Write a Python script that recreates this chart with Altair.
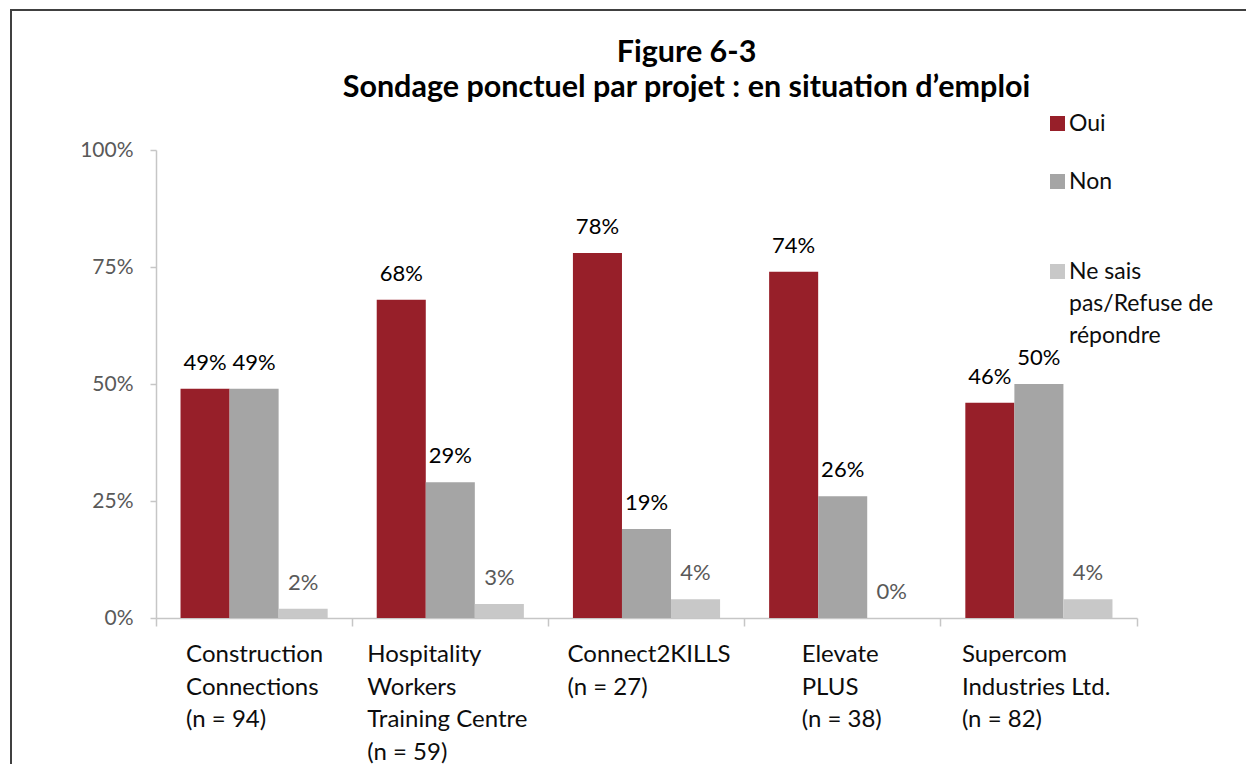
import altair as alt
import pandas as pd

categories = [
    "Construction Connections (n = 94)",
    "Hospitality Workers Training Centre (n = 59)",
    "Connect2KILLS (n = 27)",
    "Elevate PLUS (n = 38)",
    "Supercom Industries Ltd. (n = 82)",
]
cat_lines = [
    ["Construction", "Connections", "(n = 94)"],
    ["Hospitality", "Workers", "Training Centre", "(n = 59)"],
    ["Connect2KILLS", "(n = 27)"],
    ["Elevate", "PLUS", "(n = 38)"],
    ["Supercom", "Industries Ltd.", "(n = 82)"],
]
series = ["Oui", "Non", "Ne sais pas/Refuse de répondre"]
oui = [49, 68, 78, 74, 46]
non = [49, 29, 19, 26, 50]
nsp = [2, 3, 4, 0, 4]
colors = ["#971F29", "#A5A5A5", "#C8C8C8"]
title_lines = ["Figure 6-3", "Sondage ponctuel par projet : en situation d\u2019emploi"]

# label left offsets from band centre (Excel left-aligned wrapped labels)
label_dx = [-68, -83, -79, -41, -77]

rows = []
for i, c in enumerate(categories):
    for s, vals in zip(series, [oui, non, nsp]):
        rows.append({"cat": c, "series": s, "val": vals[i] / 100.0})
df = pd.DataFrame(rows)

FONT = "Lato"
W, H = 981, 468

x_enc = alt.X(
    "cat:N",
    sort=categories,
    scale=alt.Scale(paddingInner=0, paddingOuter=0),
    axis=alt.Axis(
        labels=False, title=None, grid=False, domainColor="#C6C6C6",
        tickColor="#C6C6C6", tickSize=8, bandPosition=1, tickExtra=True,
        domainWidth=1.5, tickWidth=1.5,
    ),
)
xoff = alt.XOffset("series:N", sort=series,
                   scale=alt.Scale(paddingInner=0, paddingOuter=0.5))

bars = alt.Chart(df).mark_bar().encode(
    x=x_enc,
    xOffset=xoff,
    y=alt.Y(
        "val:Q",
        scale=alt.Scale(domain=[0, 1]),
        axis=alt.Axis(
            values=[0, 0.25, 0.5, 0.75, 1], format=".0%", title=None,
            grid=False, domainColor="#C6C6C6", tickColor="#C6C6C6",
            tickSize=6, labelPadding=17, labelColor="#595959",
            labelFontSize=21, labelFont=FONT, domainWidth=1.5, tickWidth=1.5,
        ),
    ),
    color=alt.Color(
        "series:N",
        sort=series,
        scale=alt.Scale(domain=series, range=colors),
        legend=alt.Legend(
            title=None, orient="none", legendX=890, legendY=-38,
            symbolType="square", symbolSize=225, symbolStrokeWidth=0,
            labelFont=FONT, labelFontSize=23, labelColor="#0D0D0D",
            labelLimit=300, rowPadding=34, labelOffset=0,
            labelExpr=(
                "datum.label == 'Ne sais pas/Refuse de répondre' ? "
                "['Ne sais', 'pas/Refuse de', 'répondre'] : "
                "(datum.label == 'Non' ? ['Non', ' '] : datum.label)"
            ),
        ),
    ),
)

value_labels = alt.Chart(df).mark_text(
    baseline="alphabetic", dy=-19, font=FONT, fontSize=22
).encode(
    x=alt.X("cat:N", sort=categories),
    xOffset=xoff,
    y="val:Q",
    text=alt.Text("val:Q", format=".0%"),
    color=alt.condition(
        alt.datum.series == "Ne sais pas/Refuse de répondre",
        alt.value("#595959"),
        alt.value("#000000"),
    ),
)

cat_layers = []
for i, c in enumerate(categories):
    d = pd.DataFrame({"cat": [c], "lines": [cat_lines[i]]})
    cat_layers.append(
        alt.Chart(d).mark_text(
            align="left", baseline="alphabetic", dx=label_dx[i],
            font=FONT, fontSize=24, lineHeight=32.5, color="#0D0D0D",
        ).encode(
            x=alt.X("cat:N", sort=categories),
            y=alt.value(512),
            text="lines:N",
        )
    )

title = alt.Chart(pd.DataFrame({"t": [title_lines]})).mark_text(
    align="center", baseline="alphabetic", font=FONT, fontSize=30.5,
    fontWeight="bold", lineHeight=35, color="#000000",
).encode(x=alt.value(W / 2 + 40), y=alt.value(-88), text="t:N")

frame = alt.Chart(alt.Data(values=[{}])).mark_rect(
    fill=None, stroke="#404040", strokeWidth=2
).encode(
    x=alt.value(-145), x2=alt.value(1200), y=alt.value(-140), y2=alt.value(900)
)

chart = alt.layer(frame, title, bars, value_labels, *cat_layers).properties(
    width=W,
    height=H,
    autosize=alt.AutoSizeParams(type="none"),
    padding={"left": 148, "top": 142, "right": 109, "bottom": 146},
).configure(
    background="white", style={"guide-label": {"lineHeight": 32}}
).configure_view(stroke=None)

chart.save("out.html", embed_options={"renderer": "svg", "actions": False})
